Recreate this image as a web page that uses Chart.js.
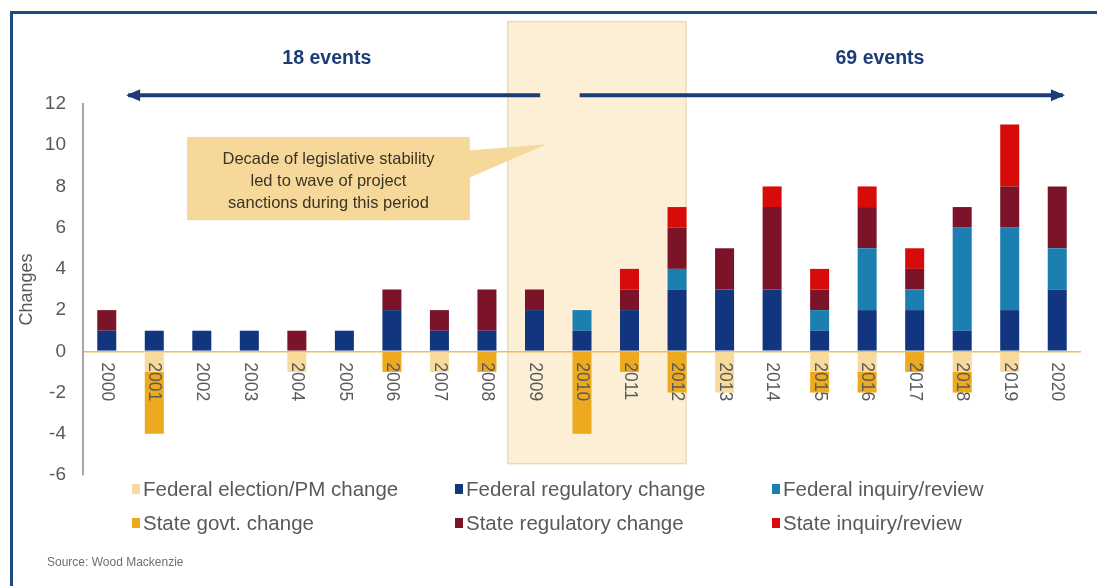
<!DOCTYPE html>
<html>
<head>
<meta charset="utf-8">
<script src="https://cdn.jsdelivr.net/npm/chart.js@4"></script>
<style>
  body { margin: 0; background: #fff; overflow: hidden; font-family: "Liberation Sans", Arial, sans-serif; }
  #wrap { position: relative; width: 1097px; height: 586px; }
  #frame { position: absolute; left: 10px; top: 11px; width: 1200px; height: 700px;
           border-left: 3px solid #1f4a86; border-top: 3px solid #1f4a86; }
  canvas { position: absolute; left: 0; top: 0; }
  .leg { position: absolute; color: #595959; font-size: 20.5px; white-space: nowrap; line-height: 22px; }
  .leg i { display: inline-block; width: 8px; height: 10px; margin-right: 3px; vertical-align: 2px; }
  #source { position: absolute; left: 47px; top: 555px; font-size: 12px; color: #6f6f6f; }
</style>
</head>
<body>
<div id="wrap">
  <div id="frame"></div>
  <canvas id="chart" width="1097" height="586"></canvas>
  <div id="legend"></div>
  <div id="source">Source: Wood Mackenzie</div>
</div>
<script>
    "use strict";

    // Data
    var years = ['2000', '2001', '2002', '2003', '2004', '2005', '2006', '2007', '2008', '2009', '2010',
                 '2011', '2012', '2013', '2014', '2015', '2016', '2017', '2018', '2019', '2020'];
    var fedElection  = [0, -1, 0, 0, -1, 0, 0, -1, 0, 0, 0, 0, 0, -2, 0, -1, -1, 0, -1, -1, 0];
    var fedReg       = [1, 1, 1, 1, 0, 1, 2, 1, 1, 2, 1, 2, 3, 3, 3, 1, 2, 2, 1, 2, 3];
    var fedInquiry   = [0, 0, 0, 0, 0, 0, 0, 0, 0, 0, 1, 0, 1, 0, 0, 1, 3, 1, 5, 4, 2];
    var stateGovt    = [0, -3, 0, 0, 0, 0, -1, 0, -1, 0, -4, -1, -2, 0, 0, -1, -1, -1, -1, 0, 0];
    var stateReg     = [1, 0, 0, 0, 1, 0, 1, 1, 2, 1, 0, 1, 2, 2, 4, 1, 2, 1, 1, 2, 3];
    var stateInquiry = [0, 0, 0, 0, 0, 0, 0, 0, 0, 0, 0, 1, 1, 0, 1, 1, 1, 1, 0, 3, 0];
    var yTicks = [-6, -4, -2, 0, 2, 4, 6, 8, 10, 12];

    var series = [
        { label: 'Federal election/PM change', data: fedElection,  color: '#f7da9c' },
        { label: 'Federal regulatory change',  data: fedReg,       color: '#11357f' },
        { label: 'Federal inquiry/review',     data: fedInquiry,   color: '#1b7fb2' },
        { label: 'State govt. change',         data: stateGovt,    color: '#eeaa1e' },
        { label: 'State regulatory change',    data: stateReg,     color: '#7c1429' },
        { label: 'State inquiry/review',       data: stateInquiry, color: '#d80b0b' }
    ];

    var FONT = '"Liberation Sans", Arial, sans-serif';
    var GREY = '#595959';
    var NAVY = '#1c3c78';


    // Legend, 3 columns x 2 rows
    var legCols = [132, 455, 772];
    var legRows = [478, 512];
    var legend = document.getElementById('legend');
    series.forEach(function (s, i) {
        var d = document.createElement('div');
        d.className = 'leg';
        d.style.left = legCols[i % 3] + 'px';
        d.style.top = legRows[Math.floor(i / 3)] + 'px';
        d.innerHTML = '<i style="background:' + s.color + '"></i>' + s.label;
        legend.appendChild(d);
    });


    // Shaded 2009-2012 band, drawn under everything
    var bandPlugin = {
        id: 'band',
        beforeDraw: function (chart) {
            var x = chart.scales.x, y = chart.scales.y, c = chart.ctx;
            var l = x.getPixelForValue(8.44), r = x.getPixelForValue(12.19);
            var t = y.getPixelForValue(16.0), b = y.getPixelForValue(-5.45);
            c.save();
            c.fillStyle = '#fcefd5';
            c.fillRect(l, t, r - l, b - t);
            c.strokeStyle = '#eadcbb';
            c.lineWidth = 1.5;
            c.strokeRect(l, t, r - l, b - t);
            c.restore();
        }
    };

    // Year labels rotated clockwise, sitting under the zero line
    var yearPlugin = {
        id: 'years',
        afterDatasetsDraw: function (chart) {
            var x = chart.scales.x, y = chart.scales.y, c = chart.ctx;
            var top = y.getPixelForValue(0) + 11;
            c.save();
            c.fillStyle = GREY;
            c.font = '17.5px ' + FONT;
            c.textAlign = 'left';
            c.textBaseline = 'middle';
            years.forEach(function (yr, i) {
                c.save();
                c.translate(x.getPixelForValue(i), top);
                c.rotate(Math.PI / 2);
                c.fillText(yr, 0, 0);
                c.restore();
            });
            c.restore();
        }
    };

    // Arrows, event counts and the callout
    function arrow(c, x1, x2, y, headAt) {
        c.beginPath();
        c.moveTo(x1, y);
        c.lineTo(x2, y);
        c.stroke();
        var hx = headAt === 'left' ? x1 : x2;
        var dir = headAt === 'left' ? 1 : -1;
        c.beginPath();
        c.moveTo(hx - dir * 2, y);
        c.lineTo(hx + dir * 12, y - 6);
        c.lineTo(hx + dir * 12, y + 6);
        c.closePath();
        c.fill();
    }

    var notesPlugin = {
        id: 'notes',
        afterDraw: function (chart) {
            var x = chart.scales.x, y = chart.scales.y, c = chart.ctx;
            var ay = y.getPixelForValue(12.43);
            c.save();
            c.strokeStyle = NAVY;
            c.fillStyle = NAVY;
            c.lineWidth = 4;
            arrow(c, x.getPixelForValue(0.45), x.getPixelForValue(9.12), ay, 'left');
            arrow(c, x.getPixelForValue(9.95), x.getPixelForValue(20.12), ay, 'right');

            c.font = 'bold 19.5px ' + FONT;
            c.textAlign = 'center';
            c.textBaseline = 'middle';
            var ty = y.getPixelForValue(14.2);
            c.fillText('18 events', x.getPixelForValue(4.63), ty);
            c.fillText('69 events', x.getPixelForValue(16.27), ty);

            // callout box with its tail
            var bl = x.getPixelForValue(1.69), br = x.getPixelForValue(7.64);
            var bt = y.getPixelForValue(10.4), bb = y.getPixelForValue(6.36);
            c.fillStyle = '#f6d89a';
            c.beginPath();
            c.moveTo(br - 2, y.getPixelForValue(9.75));
            c.lineTo(x.getPixelForValue(9.25), y.getPixelForValue(10.05));
            c.lineTo(br - 2, y.getPixelForValue(8.4));
            c.closePath();
            c.fill();
            c.fillRect(bl, bt, br - bl, bb - bt);

            c.fillStyle = '#3a3425';
            c.font = '16.5px ' + FONT;
            var cx = (bl + br) / 2, cy = (bt + bb) / 2 + 3;
            c.fillText('Decade of legislative stability', cx, cy - 22);
            c.fillText('led to wave of project', cx, cy);
            c.fillText('sanctions during this period', cx, cy + 22);
            c.restore();
        }
    };


    var ctx = document.getElementById('chart').getContext('2d');
    var myChart = new Chart(ctx, {
        type: 'bar',
        data: {
            labels: years,
            datasets: series.map(function (s) {
                return {
                    label: s.label,
                    data: s.data,
                    backgroundColor: s.color,
                    borderWidth: 0,
                    stack: 'all',
                    barPercentage: 0.4,
                    categoryPercentage: 1.0
                };
            })
        },
        options: {
            responsive: false,
            animation: false,
            layout: { padding: { left: 0, right: 16, top: 104, bottom: 111 } },
            plugins: {
                legend: { display: false },
                tooltip: { enabled: false }
            },
            scales: {
                x: {
                    stacked: true,
                    display: false
                },
                y: {
                    stacked: true,
                    min: -6,
                    max: 12,
                    afterBuildTicks: function (scale) {
                        scale.ticks = yTicks.map(function (v) { return { value: v }; });
                    },
                    afterFit: function (scale) { scale.width = 83; },
                    border: { display: true, color: '#a6a6a6', width: 2 },
                    grid: {
                        drawTicks: false,
                        color: function (c) { return c.tick && c.tick.value === 0 ? '#f1bd55' : 'rgba(0,0,0,0)'; },
                        lineWidth: 1.5
                    },
                    ticks: {
                        padding: 17,
                        color: GREY,
                        font: { family: FONT, size: 19 }
                    },
                    title: {
                        display: true,
                        text: 'Changes',
                        color: GREY,
                        font: { family: FONT, size: 18 },
                        padding: { top: 16, bottom: 0 }
                    }
                }
            }
        },
        plugins: [bandPlugin, yearPlugin, notesPlugin]
    });
</script>
</body>
</html>
